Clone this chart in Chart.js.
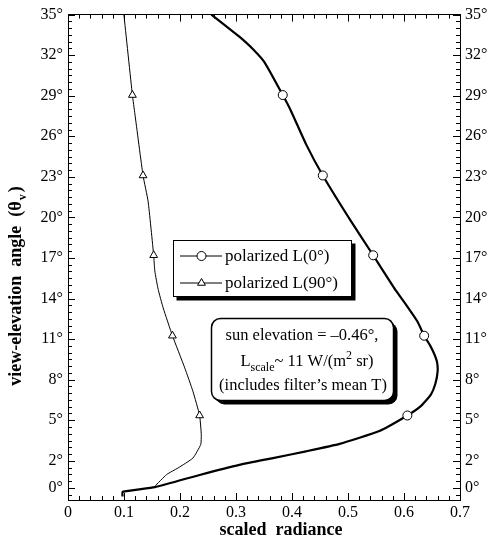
<!DOCTYPE html>
<html>
<head>
<meta charset="utf-8">
<script src="https://cdn.jsdelivr.net/npm/chart.js@4.4.1/dist/chart.umd.min.js"></script>
<style>
  html, body { margin: 0; padding: 0; background: #fff; }
</style>
</head>
<body>
<canvas id="myChart" width="493" height="540"></canvas>
<script>
'use strict';

const ctx = document.getElementById('myChart').getContext('2d');

// polarized L(0°): view-elevation angle (deg) and scaled radiance, bottom to top
let l0Angle = [-0.65, -0.3, 0.05, 0.95, 1.7, 2.2, 2.7, 3.25, 4.2, 5.35, 6.04, 6.9, 7.7, 8.6, 9.3, 9.9, 10.5,
  11.25, 12.3, 13.4, 14.56, 15.9, 17.2, 19.74, 23.1, 25.42, 27.89, 29.05, 31.47, 32.46, 33.37, 34.19, 35];
let l0Radiance = [0.0975, 0.0975, 0.155, 0.235, 0.306, 0.366, 0.425, 0.485, 0.556, 0.606, 0.630, 0.648, 0.656, 0.660, 0.659, 0.654, 0.647,
  0.636, 0.624, 0.606, 0.586, 0.565, 0.545, 0.505, 0.455, 0.425, 0.398, 0.3835, 0.351, 0.330, 0.306, 0.281, 0.256];

// polarized L(90°)
let l90Angle = [0.11, 0.98, 1.47, 2.2, 3.2, 3.94, 5.35, 7.15, 8.87, 11.25, 13.3, 14.68, 16.04, 17.2, 21.2, 23.1, 27.64, 29.05, 35];
let l90Radiance = [0.155, 0.176, 0.1965, 0.223, 0.237, 0.238, 0.235, 0.223, 0.2085, 0.1865, 0.170, 0.161, 0.155, 0.153, 0.143, 0.134, 0.1195, 0.115, 0.0998];

// angles where the symbols sit
let markerAngles = [5.35, 11.25, 17.2, 23.1, 29.05];

let xTicks = [0, 0.1, 0.2, 0.3, 0.4, 0.5, 0.6, 0.7];
let yTicks = [0, 2, 5, 8, 11, 14, 17, 20, 23, 26, 29, 32, 35];

const serif = '"Liberation Serif", "Times New Roman", serif';

function toPoints(xs, ys) {
  let pts = [];
  for (let i = 0; i < xs.length; i++) {
    pts.push({ x: xs[i], y: ys[i] });
  }
  return pts;
}

function markerRadius(c) {
  return markerAngles.includes(c.raw.y) ? 4.5 : 0;
}

// white page
const whiteBg = {
  id: 'whiteBg',
  beforeDraw(chart) {
    const c = chart.ctx;
    c.save();
    c.fillStyle = '#fff';
    c.fillRect(0, 0, chart.width, chart.height);
    c.restore();
  }
};

// tick marks pointing into the plot on all four sides
const inwardTicks = {
  id: 'inwardTicks',
  afterDraw(chart) {
    const c = chart.ctx;
    const a = chart.chartArea;
    const sx = chart.scales.x;
    const sy = chart.scales.y;
    c.save();
    c.strokeStyle = '#000';
    c.lineWidth = 1;
    c.beginPath();
    for (let i = 0; i <= 35; i++) {
      let px = Math.round(sx.getPixelForValue(i * 0.02)) + 0.5;
      let len = i % 5 === 0 ? 7 : 4;
      c.moveTo(px, a.bottom);
      c.lineTo(px, a.bottom - len);
      c.moveTo(px, a.top);
      c.lineTo(px, a.top + len);
    }
    for (let i = -1; i <= 70; i++) {
      let v = i / 2;
      let py = Math.round(sy.getPixelForValue(v)) + 0.5;
      let len = yTicks.includes(v) ? 7 : 4;
      c.moveTo(a.left, py);
      c.lineTo(a.left + len, py);
      c.moveTo(a.right, py);
      c.lineTo(a.right - len, py);
    }
    c.stroke();
    c.restore();
  }
};

// axis titles, legend box and the note box
const decorations = {
  id: 'decorations',
  afterDraw(chart) {
    const c = chart.ctx;
    c.save();
    c.fillStyle = '#000';
    c.strokeStyle = '#000';

    // x title
    c.font = 'bold 18px ' + serif;
    c.textAlign = 'center';
    c.textBaseline = 'alphabetic';
    c.fillText('scaled  radiance', 281, 535);

    // y title with subscript v
    c.translate(21, 286);
    c.rotate(-Math.PI / 2);
    let t1 = 'view-elevation  angle  (\u03b8';
    c.font = 'bold 18px ' + serif;
    let w1 = c.measureText(t1).width;
    let w3 = c.measureText(')').width;
    c.font = 'bold 12px ' + serif;
    let w2 = c.measureText('v').width + 3;
    let start = -(w1 + w2 + w3) / 2;
    c.textAlign = 'left';
    c.font = 'bold 18px ' + serif;
    c.fillText(t1, start, 0);
    c.fillText(')', start + w1 + w2, 0);
    c.font = 'bold 12px ' + serif;
    c.fillText('v', start + w1 + 1, 5);
    c.setTransform(1, 0, 0, 1, 0, 0);

    // legend
    let lx = 173.5, ly = 240.5, lw = 178, lh = 56;
    c.fillRect(lx + 3, ly + 3, lw + 1, lh + 1);
    c.fillStyle = '#fff';
    c.fillRect(lx, ly, lw, lh);
    c.lineWidth = 1;
    c.strokeRect(lx, ly, lw, lh);
    c.fillStyle = '#000';
    c.font = '17px ' + serif;
    c.textBaseline = 'middle';
    const sets = chart.data.datasets;
    const rowY = [256, 283];
    for (let i = 0; i < 2; i++) {
      let y = rowY[i];
      c.lineWidth = 1;
      c.beginPath();
      c.moveTo(180, y);
      c.lineTo(222, y);
      c.stroke();
      c.fillStyle = '#fff';
      Chart.helpers.drawPoint(c, {
        pointStyle: sets[i].pointStyle, radius: 4.5, rotation: 0, borderWidth: 1
      }, 201.5, y);
      c.fillStyle = '#000';
      c.fillText(sets[i].label, 225, y + 1);
    }

    // note box
    let bx = 211.5, by = 318.5, bw = 182, bh = 82, r = 9;
    c.beginPath();
    c.roundRect(bx + 4, by + 4, bw, bh, r);
    c.fill();
    c.beginPath();
    c.roundRect(bx, by, bw, bh, r);
    c.fillStyle = '#fff';
    c.fill();
    c.lineWidth = 1.5;
    c.stroke();
    c.fillStyle = '#000';
    c.font = '16.5px ' + serif;
    c.textAlign = 'center';
    c.fillText('sun elevation = \u20130.46\u00b0,', 302, 336);
    c.fillText('(includes filter\u2019s mean T)', 303, 386);

    // L_scale ~ 11 W/(m^2 sr)
    let parts = [
      { t: 'L', f: 16.5, dy: 0 },
      { t: 'scale', f: 12, dy: 6 },
      { t: '~ 11 W/(m', f: 16.5, dy: 0 },
      { t: '2', f: 12, dy: -6 },
      { t: ' sr)', f: 16.5, dy: 0 }
    ];
    let total = 0;
    for (let p of parts) {
      c.font = p.f + 'px ' + serif;
      p.w = c.measureText(p.t).width;
      total += p.w;
    }
    let x = 307 - total / 2;
    c.textAlign = 'left';
    for (let p of parts) {
      c.font = p.f + 'px ' + serif;
      c.fillText(p.t, x, 362 + p.dy);
      x += p.w;
    }
    c.restore();
  }
};

const tickFont = { family: serif, size: 16 };

const myChart = new Chart(ctx, {
  type: 'line',
  data: {
    datasets: [{
      label: 'polarized L(0\u00b0)',
      data: toPoints(l0Radiance, l0Angle),
      borderColor: '#000',
      borderWidth: 2.2,
      pointStyle: 'circle',
      pointRadius: markerRadius,
      pointBackgroundColor: '#fff',
      pointBorderColor: '#000',
      pointBorderWidth: 1,
      tension: 0.15
    },
    {
      label: 'polarized L(90\u00b0)',
      data: toPoints(l90Radiance, l90Angle),
      borderColor: '#000',
      borderWidth: 1,
      pointStyle: 'triangle',
      pointRadius: markerRadius,
      pointBackgroundColor: '#fff',
      pointBorderColor: '#000',
      pointBorderWidth: 1,
      tension: 0.15
    }]
  },
  plugins: [whiteBg, inwardTicks, decorations],
  options: {
    responsive: false,
    animation: false,
    devicePixelRatio: 1,
    layout: { padding: 0 },
    plugins: {
      legend: { display: false },
      tooltip: { enabled: false }
    },
    scales: {
      x: {
        type: 'linear',
        position: 'bottom',
        min: 0,
        max: 0.7,
        afterBuildTicks: (s) => { s.ticks = xTicks.map(v => ({ value: v })); },
        afterFit: (s) => { s.height = 40; },
        grid: { display: false, drawTicks: false },
        border: { display: true, color: '#000', width: 1 },
        ticks: {
          color: '#000',
          font: tickFont,
          padding: 3,
          maxRotation: 0,
          callback: (v) => v === 0 ? '0' : v.toFixed(1)
        }
      },
      x2: {
        type: 'linear',
        position: 'top',
        min: 0,
        max: 0.7,
        afterFit: (s) => { s.height = 14; },
        grid: { display: false, drawTicks: false },
        border: { display: true, color: '#000', width: 1 },
        ticks: { display: false }
      },
      y: {
        type: 'linear',
        position: 'left',
        min: -0.9,
        max: 35,
        afterBuildTicks: (s) => { s.ticks = yTicks.map(v => ({ value: v })); },
        afterFit: (s) => { s.width = 68; },
        grid: { display: false, drawTicks: false },
        border: { display: true, color: '#000', width: 1 },
        ticks: { color: '#000', font: tickFont, padding: 5, callback: (v) => v + '\u00b0' }
      },
      y2: {
        type: 'linear',
        position: 'right',
        min: -0.9,
        max: 35,
        afterBuildTicks: (s) => { s.ticks = yTicks.map(v => ({ value: v })); },
        afterFit: (s) => { s.width = 33; },
        grid: { display: false, drawTicks: false },
        border: { display: true, color: '#000', width: 1 },
        ticks: { color: '#000', font: tickFont, padding: 5, callback: (v) => v + '\u00b0' }
      }
    }
  }
});
</script>
</body>
</html>
